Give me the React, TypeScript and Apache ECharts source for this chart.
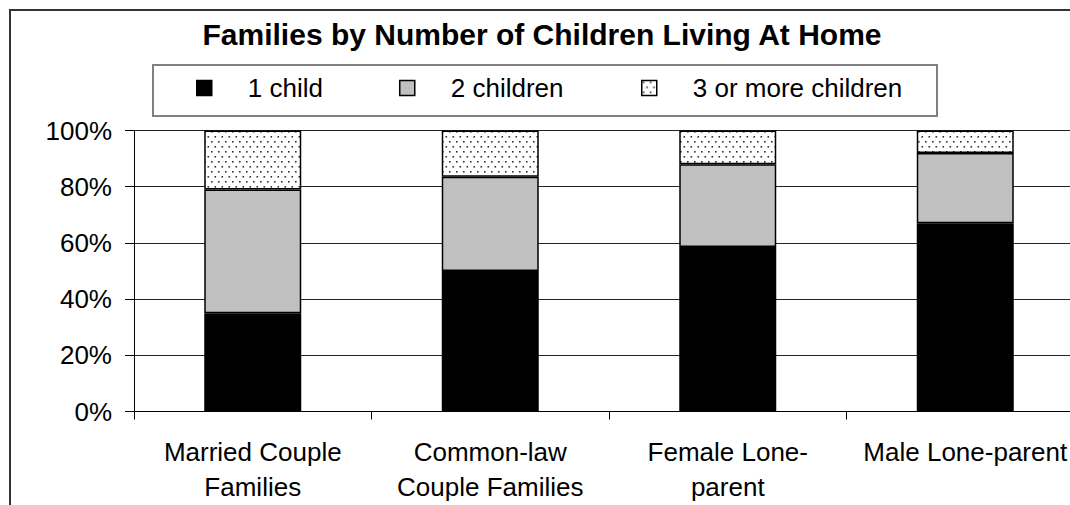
import React, { useEffect, useRef } from "react";
import * as echarts from "echarts";

const categories = [
  "Married Couple\nFamilies",
  "Common-law\nCouple Families",
  "Female Lone-\nparent",
  "Male Lone-parent",
];
const seriesNames = ["1 child", "2 children", "3 or more children"];
const oneChild = [35, 50, 58.5, 67];
const twoChildren = [44, 33.5, 29.5, 25];
const threeOrMore = [21, 16.5, 12, 8];
const yTicks = { min: 0, max: 100, interval: 20 };
const titleText = "Families by Number of Children Living At Home";

const FONT = "'Liberation Sans', Arial, Helvetica, sans-serif";

function makeDots(): HTMLCanvasElement {
  const c = document.createElement("canvas");
  c.width = 7;
  c.height = 10;
  const ctx = c.getContext("2d")!;
  ctx.fillStyle = "#ffffff";
  ctx.fillRect(0, 0, 7, 10);
  ctx.fillStyle = "#333333";
  ctx.fillRect(1, 1, 1.6, 1.6);
  ctx.fillRect(4.5, 6, 1.6, 1.6);
  return c;
}

export default function App() {
  const ref = useRef<HTMLDivElement>(null);
  useEffect(() => {
    if (!ref.current) return;
    const chart = echarts.init(ref.current, null, { renderer: "svg" });
    const dots = makeDots();
    const colors = ["#000000", "#c0c0c0", { image: dots, repeat: "repeat" } as any];
    const values = [oneChild, twoChildren, threeOrMore];
    const legendX = [196, 399, 641];
    const option: any = {
      animation: false,
      backgroundColor: "#ffffff",
      title: {
        text: titleText,
        left: 542,
        top: 19,
        textAlign: "center",
        padding: 0,
        textStyle: { fontFamily: FONT, fontSize: 30, fontWeight: "bold", color: "#000" },
      },
      graphic: [
        {
          type: "rect",
          shape: { x: 10, y: 10, width: 1200, height: 700 },
          style: { fill: "none", stroke: "#333", lineWidth: 2 },
          silent: true,
        },
        {
          type: "rect",
          shape: { x: 153, y: 65, width: 784, height: 51 },
          style: { fill: "none", stroke: "#808080", lineWidth: 2 },
          silent: true,
        },
      ],
      legend: seriesNames.map((n, i) => ({
        data: [n],
        left: legendX[i],
        top: 75,
        padding: 0,
        itemWidth: 15,
        itemHeight: 15,
        icon: "rect",
        selectedMode: false,
        itemStyle: { borderColor: "#000", borderWidth: 1.5 },
        textStyle: {
          fontFamily: FONT,
          fontSize: 26,
          color: "#000",
          padding: [0, 0, 0, 31],
        },
      })),
      grid: { left: 134, top: 130.5, width: 950, height: 281 },
      xAxis: {
        type: "category",
        data: categories,
        axisLine: { lineStyle: { color: "#000", width: 1 } },
        axisTick: { show: true, length: 8, lineStyle: { color: "#000" } },
        axisLabel: {
          interval: 0,
          margin: 23,
          fontFamily: FONT,
          fontSize: 26,
          lineHeight: 35,
          color: "#000",
        },
      },
      yAxis: {
        type: "value",
        min: yTicks.min,
        max: yTicks.max,
        interval: yTicks.interval,
        axisLine: { show: true, lineStyle: { color: "#000", width: 1 } },
        axisTick: { show: true, length: 9, lineStyle: { color: "#000" } },
        axisLabel: {
          formatter: "{value}%",
          margin: 22,
          fontFamily: FONT,
          fontSize: 26,
          color: "#000",
        },
        splitLine: { show: true, lineStyle: { color: "#222", width: 1 } },
      },
      series: seriesNames.map((n, i) => ({
        name: n,
        type: "bar",
        stack: "total",
        barWidth: 97,
        data: values[i],
        itemStyle: { color: colors[i], borderColor: "#000", borderWidth: 1.5 },
      })),
    };
    chart.setOption(option);
    return () => chart.dispose();
  }, []);
  return (
    <div
      ref={ref}
      style={{ position: "fixed", left: 0, top: 0, width: 1100, height: 505 }}
    />
  );
}
